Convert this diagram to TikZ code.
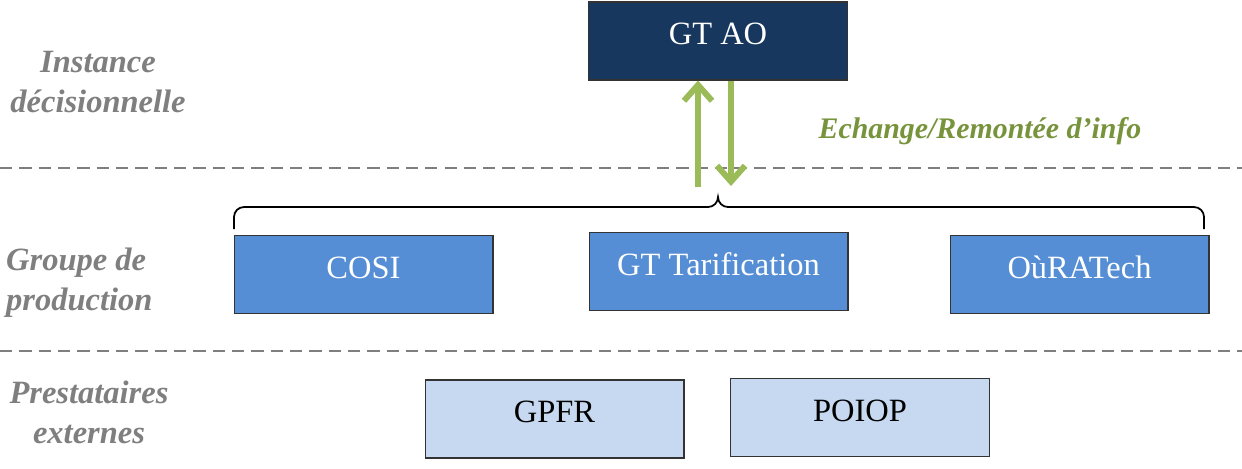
\documentclass[tikz,border=0pt]{standalone}
\usepackage{fontspec}
\setmainfont{Liberation Serif}
\usepackage{xcolor}
\usetikzlibrary{positioning, arrows.meta}

\definecolor{navy}{HTML}{17375E}
\definecolor{midblue}{HTML}{558ED5}
\definecolor{paleblue}{HTML}{C6D9F1}
\definecolor{arrowgreen}{HTML}{9BBB59}
\definecolor{textgreen}{HTML}{77933C}
\definecolor{levelgray}{HTML}{7F7F7F}

\begin{document}
\begin{tikzpicture}[x=0.02cm, y=-0.02cm,
    box/.style={draw=black!80, line width=0.6pt, minimum width=5.18cm, minimum height=1.56cm,
                text height=12pt, text depth=8pt, font=\fontsize{18.5}{22}\selectfont},
    top/.style={box, fill=navy, text=white},
    prod/.style={box, fill=midblue, text=white},
    ext/.style={box, fill=paleblue, text=black},
    level/.style={text=levelgray, font=\fontsize{18.5}{22.8}\selectfont\bfseries\itshape},
    flow/.style={draw=arrowgreen, line width=3.4pt, -{Straight Barb[length=9pt, width=16pt]}},
    sep/.style={draw=levelgray, line width=1pt, dash pattern=on 7pt off 4pt}]
  \useasboundingbox (0,0) rectangle (1242,468);

  % levels
  \draw[sep] (0,168) -- (1242,168);
  \draw[sep] (0,351) -- (1242,351);
  \node[level, align=center] (inst) at (98,82) {Instance\\décisionnelle};
  \node[level, align=left, anchor=west] (grp) at (0,283) {Groupe de\\production};
  \node[level, align=center] (prest) at (89,412) {Prestataires\\externes};

  % boxes
  \node[top] (gtao) at (718,41) {GT AO};
  \node[prod] (cosi) at (363.5,274.5) {COSI};
  \node[prod] (gttar) at (718.5,271.5) {GT Tarification};
  \node[prod] (ouratech) at (1079.5,274.5) {OùRATech};
  \node[ext] (gpfr) at (554.5,419) {GPFR};
  \node[ext] (poiop) at (860,417.5) {POIOP};

  % brace over production group
  \coordinate (bl) at (234,229);
  \coordinate (tip) at (718,197);
  \coordinate (br) at (1204,229);
  \draw[line width=1pt] (bl) -- (234,217) to[out=90,in=180] (244,207) -- (708,207)
    to[out=0,in=-90] (tip) to[out=-90,in=180] (728,207) -- (1194,207)
    to[out=0,in=90] (1204,217) -- (br);

  % exchange arrows
  \coordinate (up) at (698,187);
  \coordinate (dn) at (731,186);
  \draw[flow] (up) -- (up |- gtao.south);
  \draw[flow] (dn |- gtao.south) -- (dn);
  \node[text=textgreen, font=\fontsize{17}{20}\selectfont\bfseries\itshape] (info) at (980,131) {Echange/Remontée d’info};
\end{tikzpicture}
\end{document}
